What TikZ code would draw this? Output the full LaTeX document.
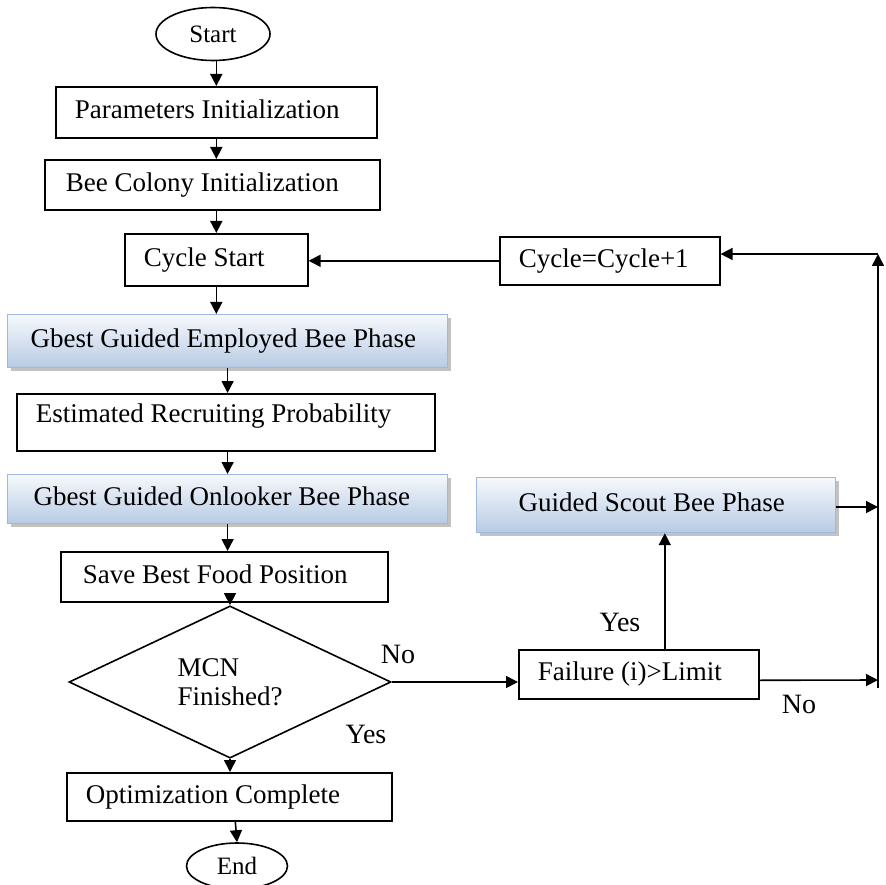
\documentclass[tikz,border=0pt]{standalone}
\usepackage{fontspec}
\setmainfont{Liberation Serif}
\usetikzlibrary{shapes.geometric,arrows.meta,shadows}

\definecolor{phasetop}{HTML}{F6F9FC}
\definecolor{phasebot}{HTML}{B7CBE4}
\definecolor{phaseline}{HTML}{9DB9DC}

% left-aligned label of fixed width inside a box
\newcommand{\lefttext}[2]{\makebox[#1pt][l]{#2}}

\begin{document}
\begin{tikzpicture}[x=1pt,y=-1pt,
  font=\fontsize{27}{29}\selectfont,
  line/.style={line width=1.6pt, draw=black},
  arr/.style={line, -{Triangle[length=12pt,width=12pt]}},
  boxbase/.style={anchor=north west, inner ysep=0pt,
                  text height=19pt, text depth=6pt},
  plainbox/.style={boxbase, draw=black, line width=1.6pt, fill=white},
  phasebox/.style={boxbase, draw=phaseline, line width=1.2pt,
                   top color=phasetop, bottom color=phasebot,
                   drop shadow={shadow xshift=3pt, shadow yshift=-3pt,
                                fill=black!40, opacity=0.6}},
  terminal/.style={ellipse, draw=black, line width=1.6pt, inner sep=0pt,
                   font=\fontsize{25}{27}\selectfont},
  decision/.style={diamond, draw=black, line width=1.6pt, inner sep=0pt,
                   align=left},
  lbl/.style={inner sep=0pt, font=\fontsize{28}{30}\selectfont}
]
\useasboundingbox (0,0) rectangle (886,885);

% ---- main column ----
\node[terminal, minimum width=114, minimum height=53] (start) at (213,34) {Start};

\node[plainbox, minimum width=321, minimum height=51, inner xsep=19]
  (param) at (55,86) {\lefttext{283}{Parameters Initialization}};
\node[plainbox, minimum width=335, minimum height=50, inner xsep=21]
  (bee) at (44,159) {\lefttext{293}{Bee Colony Initialization}};
\node[plainbox, minimum width=183, minimum height=52, inner xsep=19]
  (cstart) at (124,233) {\lefttext{145}{Cycle Start}};
\node[phasebox, minimum width=440, minimum height=53, inner xsep=23]
  (emp) at (7,314) {\lefttext{394}{Gbest Guided Employed Bee Phase}};
\node[plainbox, minimum width=418, minimum height=57, inner xsep=19, text depth=18pt]
  (erp) at (16,393) {\lefttext{380}{Estimated Recruiting Probability}};
\node[phasebox, minimum width=440, minimum height=49, inner xsep=26]
  (onl) at (7,474) {\lefttext{388}{Gbest Guided Onlooker Bee Phase}};
\node[plainbox, minimum width=327, minimum height=50, inner xsep=22]
  (save) at (60,551) {\lefttext{283}{Save Best Food Position}};

\node[decision, minimum width=322, minimum height=130] (dia) at (230,682)
  {MCN\\Finished?};

\node[plainbox, minimum width=325, minimum height=48, inner xsep=19]
  (opt) at (66,772) {\lefttext{287}{Optimization Complete}};
\node[terminal, minimum width=101, minimum height=46] (end) at (237,866) {End};

% ---- right side ----
\node[plainbox, minimum width=220, minimum height=48, inner xsep=19]
  (cyc) at (499,236) {\lefttext{182}{Cycle=Cycle+1}};
\node[phasebox, minimum width=359, minimum height=55, inner xsep=42]
  (scout) at (476,477) {\lefttext{275}{Guided Scout Bee Phase}};
\node[plainbox, minimum width=240, minimum height=49, inner xsep=19]
  (fail) at (518,649) {\lefttext{202}{Failure (i)>Limit}};

% return bus on the far right
\coordinate (bustop) at (878,254);
\coordinate (busbot) at (878,688);
\coordinate (busfail) at (878,680);
\coordinate (busscout) at (878,507);

% ---- branch labels ----
\node[lbl] (noA) at (398,654) {No};
\node[lbl] (yesA) at (366,734) {Yes};
\node[lbl] (yesB) at (620,622) {Yes};
\node[lbl] (noB) at (799,704) {No};

% ---- connectors ----
\draw[arr] (param.north |- start.south) -- (param.north);
\draw[arr] (param.south) -- (param.south |- bee.north);
\draw[arr] (param.south |- bee.south) -- (param.south |- cstart.north);
\draw[arr] (cstart.south) -- (cstart.south |- emp.north);
\draw[arr] (emp.south) -- (emp.south |- erp.north);
\draw[arr] (emp.south |- erp.south) -- (emp.south |- onl.north);
\draw[arr] (onl.south) -- (onl.south |- save.north);
\draw[arr] (dia.north |- save.south) -- (dia.north);
\draw[arr] (dia.south) -- (dia.south |- opt.north);
\draw[arr] ([xshift=6pt]opt.south) -- (end.north);

\draw[arr] (dia.east) -- (dia.east -| fail.west);
\draw[arr] ([xshift=26pt]fail.north) -- ([xshift=26pt]fail.north |- scout.south);
\draw[arr] ([yshift=-6pt]fail.east) -- (busfail);
\draw[arr] (scout.east |- busscout) -- (busscout);
\draw[arr] (busbot) -- (bustop);
\draw[arr] (bustop) -- (cyc.east |- bustop);
\draw[arr] (cyc.west) -- (cyc.west -| cstart.east);
\end{tikzpicture}
\end{document}
